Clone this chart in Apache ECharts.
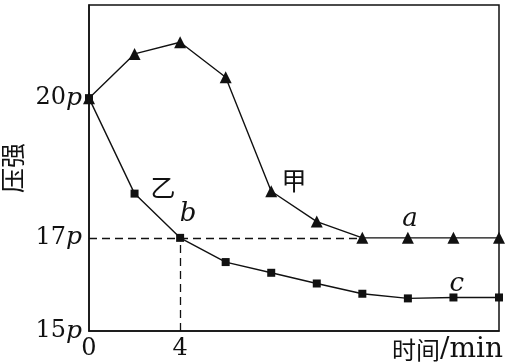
<!DOCTYPE html>
<html><head><meta charset="utf-8">
<script src="https://cdn.jsdelivr.net/npm/echarts@6/dist/echarts.min.js"></script>
<style>html,body{margin:0;padding:0;background:#fff}#c{width:506px;height:364px}</style>
</head><body><div id="c"></div>
<script>
var times = [0, 2, 4, 6, 8, 10, 12, 14, 16, 18];
var jia = [20, 20.95, 21.2, 20.45, 18.0, 17.35, 17.0, 17.0, 17.0, 17.0];
var yi  = [20, 17.95, 17.0, 16.48, 16.25, 16.02, 15.8, 15.7, 15.72, 15.72];
var yTickLabels = {15: '15', 17: '17', 20: '20'};
var xTickLabels = {0: '0', 4: '4'};
var notes = [
  {text: '甲', x: 9.0, y: 18.24, italic: false},
  {text: '乙', x: 3.25, y: 18.09, italic: false},
  {text: 'b', x: 4.35, y: 17.5, italic: true},
  {text: 'a', x: 14.09, y: 17.4, italic: true},
  {text: 'c', x: 16.15, y: 16.0, italic: true}
];
var serif = '"DejaVu Serif", serif';
var cjk = '"Noto Sans CJK SC", sans-serif';

function pairs(xs, ys){ return xs.map(function(x,i){return [x, ys[i]];}); }

var chart = echarts.init(document.getElementById('c'), null, {renderer:'canvas'});
chart.setOption({
  animation: false,
  grid: {left: 89, right: 7, top: 5, bottom: 33, outerBoundsMode: 'none', containLabel: false,
    show: true, borderColor: '#111', borderWidth: 1.5, backgroundColor: 'transparent'},
  xAxis: {
    type: 'value', min: 0, max: 18, interval: 2,
    axisLine: {lineStyle: {color: '#111', width: 1.5}},
    axisTick: {show: false}, splitLine: {show: false},
    axisLabel: {color: '#111', fontFamily: serif, fontSize: 24, margin: 6,
      formatter: function(v){ return xTickLabels[v] !== undefined ? xTickLabels[v] : ''; }},
    name: '{zh|时间}{lat|/min}', nameLocation: 'end', nameGap: -107,
    nameTextStyle: {color: '#111', fontFamily: cjk, fontSize: 24, align: 'left', verticalAlign: 'top', padding: [5,0,0,0],
      rich: {zh: {fontFamily: cjk, fontSize: 24, color: '#111'}, lat: {fontFamily: serif, fontSize: 28, color: '#111'}}}
  },
  yAxis: {
    type: 'value', min: 15, max: 22, interval: 1,
    axisLine: {lineStyle: {color: '#111', width: 1.5}},
    axisTick: {show: false}, splitLine: {show: false},
    axisLabel: {color: '#111', fontFamily: serif, fontSize: 24, margin: 7,
      formatter: function(v){ return yTickLabels[v] !== undefined ? '{n|' + yTickLabels[v] + '}{p|p}' : ''; },
      rich: {n: {fontFamily: serif, fontSize: 24, color: '#111'}, p: {fontFamily: serif, fontSize: 25, fontStyle: 'italic', color: '#111'}}},
    name: '压强', nameLocation: 'middle', nameGap: 57, nameRotate: 90,
    nameTextStyle: {color: '#111', fontFamily: cjk, fontSize: 25}
  },
  series: [
    {
      type: 'line', data: pairs(times, jia), symbol: 'triangle', symbolSize: 12,
      itemStyle: {color: '#111'}, lineStyle: {color: '#111', width: 1.4},
      markPoint: {
        symbol: 'circle', symbolSize: 0, silent: true,
        data: notes.map(function(n){ return {coord: [n.x, n.y], label: {show: true, formatter: n.text, position: 'inside', color: '#111',
          fontFamily: n.italic ? serif : cjk, fontStyle: n.italic ? 'italic' : 'normal', fontSize: n.italic ? 26 : 25}}; })
      }
    },
    {
      type: 'line', data: pairs(times, yi), symbol: 'rect', symbolSize: 8,
      itemStyle: {color: '#111'}, lineStyle: {color: '#111', width: 1.4},
      markLine: {
        symbol: 'none', silent: true, label: {show: false},
        lineStyle: {color: '#111', width: 1.3, type: [8, 5]},
        data: [
          [{coord: [0, 17]}, {coord: [12, 17]}],
          [{coord: [4, 15]}, {coord: [4, 17]}]
        ]
      }
    }
  ]
});
</script></body></html>
